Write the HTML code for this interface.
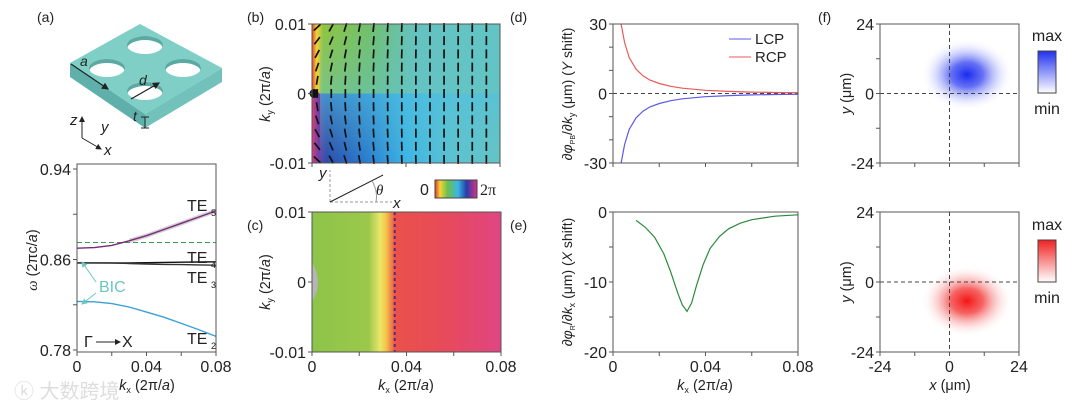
<!DOCTYPE html>
<html><head><meta charset="utf-8"><style>
html,body{margin:0;padding:0;background:#fff}
svg{display:block;font-family:"Liberation Sans",sans-serif}
</style></head><body>
<svg id="fig" width="1080" height="406" viewBox="0 0 1080 406" xmlns="http://www.w3.org/2000/svg">
<defs>
<linearGradient id="gb-top" x1="0" x2="1" y1="0" y2="0">
<stop offset="0" stop-color="#e8452a"/><stop offset="0.025" stop-color="#f3d23a"/><stop offset="0.06" stop-color="#8fc43f"/><stop offset="0.3" stop-color="#72c06a"/><stop offset="0.55" stop-color="#64c3bf"/><stop offset="1" stop-color="#63c4c6"/></linearGradient>
<linearGradient id="gb-bot" x1="0" x2="1" y1="0" y2="0">
<stop offset="0" stop-color="#e03c7a"/><stop offset="0.03" stop-color="#7b3f9e"/><stop offset="0.08" stop-color="#2a4cae"/><stop offset="0.3" stop-color="#2a7ed0"/><stop offset="0.5" stop-color="#3bb5e6"/><stop offset="0.75" stop-color="#5cc2d2"/><stop offset="1" stop-color="#63c4c6"/></linearGradient>
<linearGradient id="gb-fadeT" x1="0" x2="0" y1="0" y2="1"><stop offset="0" stop-color="#63c4c6" stop-opacity="0"/><stop offset="1" stop-color="#63c4c6" stop-opacity="0.5"/></linearGradient>
<linearGradient id="gb-fadeB" x1="0" x2="0" y1="0" y2="1"><stop offset="0" stop-color="#4fc0e0" stop-opacity="0.6"/><stop offset="1" stop-color="#63c4c6" stop-opacity="0"/></linearGradient>
<linearGradient id="gc" x1="0" x2="1" y1="0" y2="0">
<stop offset="0" stop-color="#8cc449"/><stop offset="0.3" stop-color="#9cc84a"/><stop offset="0.36" stop-color="#e9e66a"/><stop offset="0.39" stop-color="#f4c84a"/><stop offset="0.44" stop-color="#e9524a"/><stop offset="0.7" stop-color="#e74a5a"/><stop offset="1" stop-color="#e04583"/></linearGradient>
<linearGradient id="gcb" x1="0" x2="1" y1="0" y2="0">
<stop offset="0" stop-color="#e8342a"/><stop offset="0.12" stop-color="#f5d43a"/><stop offset="0.3" stop-color="#6cc04a"/><stop offset="0.55" stop-color="#38b6e6"/><stop offset="0.75" stop-color="#253ca8"/><stop offset="1" stop-color="#e0308a"/></linearGradient>
<linearGradient id="gblue" x1="0" x2="0" y1="0" y2="1"><stop offset="0" stop-color="#2030f0"/><stop offset="1" stop-color="#fff"/></linearGradient>
<linearGradient id="gred" x1="0" x2="0" y1="0" y2="1"><stop offset="0" stop-color="#f02020"/><stop offset="1" stop-color="#fff"/></linearGradient>
<radialGradient id="rblue"><stop offset="0" stop-color="#1a2af0"/><stop offset="0.35" stop-color="#4a58f2" stop-opacity="0.85"/><stop offset="0.7" stop-color="#a0a8f8" stop-opacity="0.35"/><stop offset="1" stop-color="#fff" stop-opacity="0"/></radialGradient>
<radialGradient id="rred"><stop offset="0" stop-color="#f51515"/><stop offset="0.35" stop-color="#f44848" stop-opacity="0.85"/><stop offset="0.7" stop-color="#f8a0a0" stop-opacity="0.35"/><stop offset="1" stop-color="#fff" stop-opacity="0"/></radialGradient>
<marker id="ah" markerWidth="6" markerHeight="6" refX="5" refY="3" orient="auto"><path d="M0,0 L6,3 L0,6z" fill="#222"/></marker>
<marker id="ahc" markerWidth="6" markerHeight="6" refX="5" refY="3" orient="auto"><path d="M0,0 L6,3 L0,6z" fill="#6cc6c0"/></marker>
</defs>

<g font-size="14" fill="#222">
<text x="37" y="22">(a)</text>
<text x="247" y="22">(b)</text>
<text x="247" y="230">(c)</text>
<text x="510" y="22">(d)</text>
<text x="510" y="230">(e)</text>
<text x="818" y="22">(f)</text>
</g>

<g>
<path d="M70,63 L145,114 L145,128 L70,77z" fill="#5fb0aa"/>
<path d="M145,114 L222,68 L222,82 L145,128z" fill="#72c2bb"/>
<path d="M70,63 L140,24 L222,68 L145,114z" fill="#7fcfc6"/>
<ellipse cx="145" cy="45" rx="18" ry="9" fill="#fff"/><path d="M127,45 A18,9 0 0 1 163,45 L163,49 A18,9 0 0 0 127,49z" fill="#5aa9a2"/>
<ellipse cx="107" cy="68" rx="18" ry="9" fill="#fff"/><path d="M89,68 A18,9 0 0 1 125,68 L125,72 A18,9 0 0 0 89,72z" fill="#5aa9a2"/>
<ellipse cx="183" cy="68" rx="18" ry="9" fill="#fff"/><path d="M165,68 A18,9 0 0 1 201,68 L201,72 A18,9 0 0 0 165,72z" fill="#5aa9a2"/>
<ellipse cx="145" cy="91" rx="18" ry="9" fill="#fff"/><path d="M127,91 A18,9 0 0 1 163,91 L163,95 A18,9 0 0 0 127,95z" fill="#5aa9a2"/>
<line x1="71" y1="64" x2="108" y2="89" stroke="#222" stroke-width="1.2" marker-end="url(#ah)"/>
<text x="80" y="66" font-size="14" font-style="italic" fill="#222">a</text>
<line x1="131" y1="99" x2="159" y2="83" stroke="#222" stroke-width="1.2" marker-end="url(#ah)"/>
<text x="139" y="85" font-size="14" font-style="italic" fill="#222">d</text>
<text x="133" y="121" font-size="14" font-style="italic" fill="#222">t</text>
<path d="M141,117 L149,117 M145,117 L145,128 M141,128 L149,128" stroke="#222" stroke-width="1"/>
<line x1="82" y1="138" x2="82" y2="117" stroke="#222" stroke-width="1" marker-end="url(#ah)"/>
<line x1="82" y1="138" x2="101" y2="149" stroke="#222" stroke-width="1" marker-end="url(#ah)"/>
<text x="70" y="125" font-size="15" font-style="italic" fill="#222">z</text>
<text x="101" y="132" font-size="15" font-style="italic" fill="#222">y</text>
<text x="104" y="155" font-size="15" font-style="italic" fill="#222">x</text>
</g>

<g id="pa"></g>
<g id="pb"></g>
<g id="pc"></g>
<g id="pd"></g>
<g id="pe"></g>
<g id="pf"></g>
</svg>
<script>
const bandK = [0, 0.01, 0.02, 0.03, 0.04, 0.05, 0.06, 0.07, 0.08];
const te5 = [0.870, 0.8705, 0.8725, 0.8765, 0.881, 0.8865, 0.892, 0.8975, 0.903];
const te4 = [0.857, 0.857, 0.857, 0.857, 0.8572, 0.8574, 0.8576, 0.8578, 0.858];
const te3 = [0.857, 0.857, 0.8568, 0.8565, 0.856, 0.8557, 0.8555, 0.8552, 0.855];
const te2 = [0.823, 0.8226, 0.821, 0.818, 0.8135, 0.809, 0.8035, 0.798, 0.792];
const bicLine = 0.875;
const dK = [0.0035, 0.005, 0.007, 0.01, 0.013, 0.016, 0.02, 0.025, 0.03, 0.04, 0.05, 0.06, 0.07, 0.08];
const rcp = [30, 22, 15.5, 10.5, 7.6, 5.8, 4.3, 3.1, 2.3, 1.4, 0.9, 0.6, 0.45, 0.35];
const lcp = [-30, -22, -15.5, -10.5, -7.6, -5.8, -4.3, -3.1, -2.3, -1.4, -0.9, -0.6, -0.45, -0.35];
const eK = [0.01, 0.014, 0.018, 0.022, 0.025, 0.028, 0.03, 0.032, 0.034, 0.036, 0.039, 0.042, 0.046, 0.05, 0.055, 0.06, 0.07, 0.08];
const eVal = [-1.2, -2.2, -3.6, -6.0, -8.6, -11.6, -13.3, -14.2, -13.0, -10.6, -7.5, -5.2, -3.5, -2.4, -1.6, -1.1, -0.6, -0.4];
const beamLCP = [6, 6.5];
const beamRCP = [6, -6.5];
const phaseCross = 0.035;

const NS = "http://www.w3.org/2000/svg";
const FS = 16;
function mk(parent, tag, attrs, txt) {
  const e = document.createElementNS(NS, tag);
  for (const k in attrs) e.setAttribute(k, attrs[k]);
  if (txt !== undefined) e.textContent = txt;
  parent.appendChild(e); return e;
}
function scale(d0, d1, r0, r1) { return v => r0 + (v - d0) / (d1 - d0) * (r1 - r0); }
function frame(g, x0, y0, x1, y1) {
  const r = mk(g, 'rect', {x: x0, y: y0, width: x1 - x0, height: y1 - y0, fill: 'none', stroke: '#555', 'stroke-width': 1});
  
  
}
function yTicks(g, sy, x0, vals, labels) {
  vals.forEach((v, i) => {
    mk(g, 'line', {x1: x0 - 4, x2: x0, y1: sy(v), y2: sy(v), stroke: '#555'});
    if (labels[i] !== '') {
      const t = mk(g, 'text', {x: x0 - 6, y: sy(v) + 6, 'text-anchor': 'end', 'font-size': FS, fill: '#222'}, labels[i]);
      
      
    }
  });
}
function xTicks(g, sx, y0, vals, labels) {
  vals.forEach((v, i) => {
    mk(g, 'line', {x1: sx(v), x2: sx(v), y1: y0, y2: y0 + 4, stroke: '#555'});
    if (labels[i] !== '') {
      const t = mk(g, 'text', {x: sx(v), y: y0 + 20, 'text-anchor': 'middle', 'font-size': FS, fill: '#222'}, labels[i]);
      
      
    }
  });
}
function path(xs, ys, sx, sy) { return xs.map((x, i) => (i ? 'L' : 'M') + sx(x).toFixed(1) + ',' + sy(ys[i]).toFixed(1)).join(' '); }
function kLabel(g, x, y, sub, rot) {
  const t = mk(g, 'text', rot ? {x: 0, y: 0, 'font-size': 14.5, fill: '#222', transform: `translate(${x},${y}) rotate(-90)`, 'text-anchor': 'middle'} : {x: x, y: y, 'font-size': 14.5, fill: '#222', 'text-anchor': 'middle'});
  t.innerHTML = '<tspan font-style="italic">k</tspan><tspan font-size="9" dy="3">' + sub + '</tspan><tspan dy="-3"> (2π/</tspan><tspan font-style="italic">a</tspan>)';
  return t;
}

(function () {
  const g = document.getElementById('pa');
  const X0 = 77, X1 = 216, Y0 = 164, Y1 = 352;
  const sx = scale(0, 0.08, X0, X1), sy = scale(0.78, 0.94, 350, 169);
  const shade = mk(g, 'path', {d: path(bandK.slice(3), te5.slice(3).map(v => v + 0.002), sx, sy) + ' ' + path(bandK.slice(3).reverse(), te5.slice(3).reverse().map(v => v - 0.002), sx, sy).replace('M', 'L'), fill: '#c9c4c8', opacity: 0.8});
  
  
  const dl = mk(g, 'line', {x1: X0, x2: X1, y1: sy(bicLine), y2: sy(bicLine), stroke: '#3a9a5a', 'stroke-dasharray': '5,3'});
  
  
  [[te5, '#7a2a7a', 'te5-band'], [te4, '#111', 'te4-band'], [te3, '#333', 'te3-band'], [te2, '#3aa0d8', 'te2-band']].forEach(s => {
    const p = mk(g, 'path', {d: path(bandK, s[0], sx, sy), fill: 'none', stroke: s[1], 'stroke-width': 1.4});
    
    
  });
  frame(g, X0, Y0, X1, Y1);
  yTicks(g, sy, X0, [0.78, 0.82, 0.86, 0.90, 0.94], ['0.78', '', '0.86', '', '0.94']);
  xTicks(g, sx, Y1, [0, 0.02, 0.04, 0.06, 0.08], ['0', '', '0.04', '', '0.08']);
  const lab = [['TE', '5', 187, 211], ['TE', '4', 187, 263], ['TE', '3', 187, 283], ['TE', '2', 187, 344]];
  lab.forEach(l => {
    const t = mk(g, 'text', {x: l[2], y: l[3], 'font-size': 16, fill: '#222'}, l[0]);
    
    
    mk(g, 'text', {x: l[2] + 24, y: l[3] + 5, 'font-size': 9, fill: '#222'}, l[1]);
  });
  const bic = mk(g, 'text', {x: 99, y: 292, 'font-size': 16, fill: '#6cc6c0'}, 'BIC');
  
  
  mk(g, 'line', {x1: 96, y1: 282, x2: 82, y2: 262, stroke: '#6cc6c0', 'marker-end': 'url(#ahc)'});
  mk(g, 'line', {x1: 96, y1: 293, x2: 82, y2: 304, stroke: '#6cc6c0', 'marker-end': 'url(#ahc)'});
  mk(g, 'text', {x: 84, y: 347, 'font-size': 16, fill: '#222'}, 'Γ');
  mk(g, 'line', {x1: 96, y1: 342, x2: 120, y2: 342, stroke: '#222', 'marker-end': 'url(#ah)'});
  mk(g, 'text', {x: 122, y: 347, 'font-size': 16, fill: '#222'}, 'X');
  const yl = mk(g, 'text', {x: 0, y: 0, 'font-size': 14.5, fill: '#222', transform: 'translate(37,260) rotate(-90)', 'text-anchor': 'middle'});
  
  
  yl.innerHTML = '<tspan font-style="italic" font-family="Liberation Serif">ω</tspan> (2πc/<tspan font-style="italic">a</tspan>)';
  const xl = kLabel(g, 147, 390, 'x', false);
  
  
  mk(g, 'text', {x: 14, y: 398, 'font-size': 20, fill: '#ddd'}, 'ⓚ 大数跨境');
})();

(function () {
  const g = document.getElementById('pb');
  const x0 = 312, x1 = 500, y0 = 24, y1 = 163, ym = (y0 + y1) / 2;
  mk(g, 'rect', {x: x0, y: y0, width: x1 - x0, height: ym - y0, fill: 'url(#gb-top)'});
  mk(g, 'rect', {x: x0, y: ym, width: x1 - x0, height: y1 - ym, fill: 'url(#gb-bot)'});
  mk(g, 'rect', {x: x0 + 8, y: y0, width: x1 - x0 - 8, height: ym - y0, fill: 'url(#gb-fadeT)'});
  mk(g, 'rect', {x: x0 + 8, y: ym, width: x1 - x0 - 8, height: y1 - ym, fill: 'url(#gb-fadeB)'});
  const sx = scale(0, 0.08, x0, x1), sy = scale(-0.01, 0.01, y1, y0);
  for (let c = 0; c < 13; c++) for (let r = 0; r < 11; r++) {
    const kx = 0.0022 + c * 0.006, ky = 0.0095 - r * 0.0019;
    const tilt = (Math.PI / 3) * (ky / 0.01) * Math.exp(-kx / 0.012);
    const L = 4.5, cx = sx(kx), cy = sy(ky);
    const dx = L * Math.sin(tilt), dy = L * Math.cos(tilt);
    const a = mk(g, 'line', {x1: cx - dx, y1: cy + dy, x2: cx + dx, y2: cy - dy, stroke: '#111', 'stroke-width': 1.7});
    
    
  }
  mk(g, 'circle', {cx: x0 + 2, cy: ym, r: 4.5, fill: '#111'});
  frame(g, x0, y0, x1, y1);
  yTicks(g, sy, x0, [-0.01, 0, 0.01], ['-0.01', '0', '0.01']);
  xTicks(g, sx, y1, [0, 0.04, 0.08], ['', '', '']);
  const yl = kLabel(g, 270, 94, 'y', true);
  
  
  mk(g, 'line', {x1: 330, y1: 202, x2: 330, y2: 170, stroke: '#999', 'stroke-dasharray': '3,2'});
  mk(g, 'line', {x1: 330, y1: 202, x2: 392, y2: 202, stroke: '#999', 'stroke-dasharray': '3,2'});
  mk(g, 'line', {x1: 330, y1: 202, x2: 383, y2: 175, stroke: '#222'});
  mk(g, 'path', {d: 'M372,181 Q378,191 376,202', fill: 'none', stroke: '#999'});
  mk(g, 'text', {x: 319, y: 178, 'font-size': 15, 'font-style': 'italic', fill: '#222'}, 'y');
  mk(g, 'text', {x: 393, y: 208, 'font-size': 15, 'font-style': 'italic', fill: '#222'}, 'x');
  mk(g, 'text', {x: 376, y: 195, 'font-size': 15, 'font-style': 'italic', 'font-family': 'Liberation Serif', fill: '#222'}, 'θ');
  const cb = mk(g, 'rect', {x: 435, y: 180, width: 42, height: 18, fill: 'url(#gcb)', stroke: '#444'});
  
  
  mk(g, 'text', {x: 420, y: 195, 'font-size': 16, fill: '#222'}, '0');
  mk(g, 'text', {x: 480, y: 195, 'font-size': 16, 'font-family': 'Liberation Serif', fill: '#222'}, '2π');
})();

(function () {
  const g = document.getElementById('pc');
  const x0 = 312, x1 = 501, y0 = 212, y1 = 352;
  mk(g, 'rect', {x: x0, y: y0, width: x1 - x0, height: y1 - y0, fill: 'url(#gc)'});
  const sx = scale(0, 0.08, x0, x1), sy = scale(-0.01, 0.01, y1, y0);
  mk(g, 'path', {d: `M${x0},${sy(0.0028)} Q${x0 + 12},${sy(0)} ${x0},${sy(-0.0028)}z`, fill: '#b5b5b5'});
  const dl = mk(g, 'line', {x1: sx(phaseCross), x2: sx(phaseCross), y1: y0, y2: y1, stroke: '#5a2a7a', 'stroke-width': 2, 'stroke-dasharray': '3,3'});
  
  
  frame(g, x0, y0, x1, y1);
  yTicks(g, sy, x0, [-0.01, 0, 0.01], ['-0.01', '0', '0.01']);
  xTicks(g, sx, y1, [0, 0.02, 0.04, 0.06, 0.08], ['0', '', '0.04', '', '0.08']);
  const yl = kLabel(g, 270, 282, 'y', true);
  
  
  const xl = kLabel(g, 406, 390, 'x', false);
  
  
})();

(function () {
  const g = document.getElementById('pd');
  const x0 = 613, x1 = 798, y0 = 24, y1 = 163;
  const sx = scale(0, 0.08, x0, x1), sy = scale(-30, 30, y1, y0);
  mk(g, 'line', {x1: x0, x2: x1, y1: sy(0), y2: sy(0), stroke: '#444', 'stroke-dasharray': '4,3'});
  const r = mk(g, 'path', {d: path(dK, rcp, sx, sy), fill: 'none', stroke: '#e85a5a', 'stroke-width': 1.2});
  
  
  const l = mk(g, 'path', {d: path(dK, lcp, sx, sy), fill: 'none', stroke: '#5a5ae8', 'stroke-width': 1.2});
  
  
  frame(g, x0, y0, x1, y1);
  yTicks(g, sy, x0, [-30, -20, -10, 0, 10, 20, 30], ['-30', '', '', '0', '', '', '30']);
  xTicks(g, sx, y1, [0, 0.02, 0.04, 0.06, 0.08], ['', '', '', '', '']);
  mk(g, 'line', {x1: 729, x2: 751, y1: 39, y2: 39, stroke: '#5a5ae8'});
  const t1 = mk(g, 'text', {x: 755, y: 44, 'font-size': 15, fill: '#222'}, 'LCP');
  
  
  mk(g, 'line', {x1: 729, x2: 751, y1: 57, y2: 57, stroke: '#e85a5a'});
  const t2 = mk(g, 'text', {x: 755, y: 62, 'font-size': 15, fill: '#222'}, 'RCP');
  
  
  const yl = mk(g, 'text', {x: 0, y: 0, 'font-size': 14, fill: '#222', transform: 'translate(572,94) rotate(-90)', 'text-anchor': 'middle'});
  
  
  yl.innerHTML = '∂<tspan font-style="italic">φ</tspan><tspan font-size="7" dy="3">PB</tspan><tspan dy="-3">/∂</tspan><tspan font-style="italic">k</tspan><tspan font-size="9" dy="3">y</tspan><tspan dy="-3"> (μm)  (</tspan><tspan font-style="italic">Y</tspan> shift)';
})();

(function () {
  const g = document.getElementById('pe');
  const x0 = 613, x1 = 798, y0 = 212, y1 = 352;
  const sx = scale(0, 0.08, x0, x1), sy = scale(-20, 0, y1, y0);
  const p = mk(g, 'path', {d: path(eK, eVal, sx, sy), fill: 'none', stroke: '#2a8a3a', 'stroke-width': 1.2});
  
  
  frame(g, x0, y0, x1, y1);
  yTicks(g, sy, x0, [-20, -15, -10, -5, 0], ['-20', '', '-10', '', '0']);
  xTicks(g, sx, y1, [0, 0.02, 0.04, 0.06, 0.08], ['0', '', '0.04', '', '0.08']);
  const yl = mk(g, 'text', {x: 0, y: 0, 'font-size': 14, fill: '#222', transform: 'translate(572,282) rotate(-90)', 'text-anchor': 'middle'});
  
  
  yl.innerHTML = '∂<tspan font-style="italic">φ</tspan><tspan font-size="7" dy="3">R</tspan><tspan dy="-3">/∂</tspan><tspan font-style="italic">k</tspan><tspan font-size="9" dy="3">x</tspan><tspan dy="-3"> (μm)  (</tspan><tspan font-style="italic">X</tspan> shift)';
  const xl = kLabel(g, 705, 390, 'x', false);
  
  
})();

(function () {
  const g = document.getElementById('pf');
  const x0 = 880, x1 = 1019;
  [[24, 163, beamLCP, 'url(#rblue)', 'url(#gblue)', 51, 'lcp-beam'], [212, 352, beamRCP, 'url(#rred)', 'url(#gred)', 240, 'rcp-beam']].forEach(P => {
    const y0 = P[0], y1 = P[1];
    const sx = scale(-24, 24, x0, x1), sy = scale(-24, 24, y1, y0);
    const b = mk(g, 'ellipse', {cx: sx(P[2][0]), cy: sy(P[2][1]), rx: 46, ry: 36, fill: P[3]});
    
    
    mk(g, 'line', {x1: sx(0), x2: sx(0), y1: y0, y2: y1, stroke: '#444', 'stroke-dasharray': '4,3'});
    mk(g, 'line', {x1: x0, x2: x1, y1: sy(0), y2: sy(0), stroke: '#444', 'stroke-dasharray': '4,3'});
    frame(g, x0, y0, x1, y1);
    yTicks(g, sy, x0, [-24, -12, 0, 12, 24], ['-24', '', '0', '', '24']);
    xTicks(g, sx, y1, [-24, -12, 0, 12, 24], y1 > 300 ? ['-24', '', '0', '', '24'] : ['', '', '', '', '']);
    const yl = mk(g, 'text', {x: 0, y: 0, 'font-size': 14.5, fill: '#222', transform: `translate(851,${(y0 + y1) / 2}) rotate(-90)`, 'text-anchor': 'middle'});
    
    
    yl.innerHTML = '<tspan font-style="italic">y</tspan> (μm)';
    const cb = mk(g, 'rect', {x: 1038, y: P[5], width: 18, height: 42, fill: P[4], stroke: '#444'});
    
    
    mk(g, 'text', {x: 1047, y: P[5] - 10, 'font-size': 16, fill: '#222', 'text-anchor': 'middle'}, 'max');
    mk(g, 'text', {x: 1047, y: P[5] + 63, 'font-size': 16, fill: '#222', 'text-anchor': 'middle'}, 'min');
  });
  const xl = mk(g, 'text', {x: 950, y: 390, 'font-size': 14.5, fill: '#222', 'text-anchor': 'middle'});
  
  
  xl.innerHTML = '<tspan font-style="italic">x</tspan> (μm)';
})();
</script>
</body></html>
